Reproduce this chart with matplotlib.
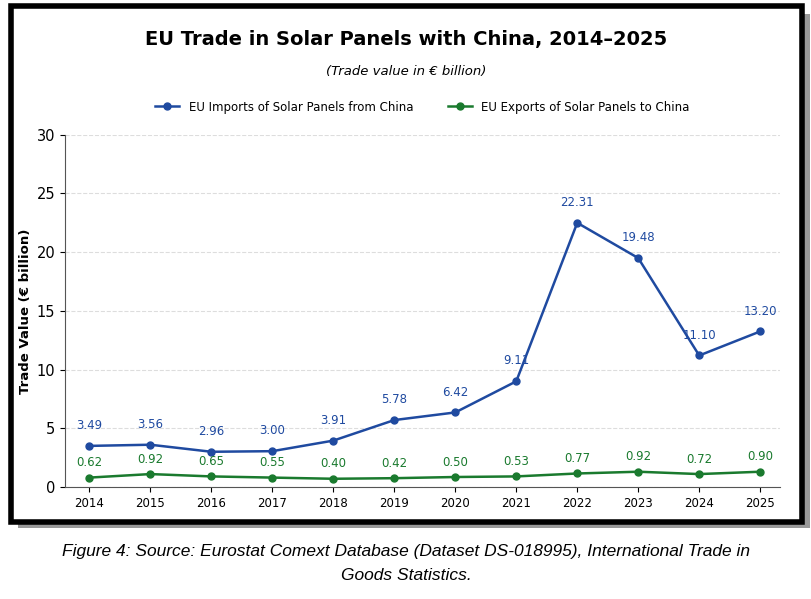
import matplotlib.pyplot as plt
from matplotlib.patches import Rectangle

years = [2014, 2015, 2016, 2017, 2018, 2019, 2020, 2021, 2022, 2023, 2024, 2025]
# positions read from the drawn points
imports_plot = [3.5, 3.6, 3.0, 3.05, 3.95, 5.7, 6.35, 9.0, 22.5, 19.5, 11.2, 13.25]
exports_plot = [0.8, 1.1, 0.9, 0.8, 0.7, 0.75, 0.85, 0.9, 1.15, 1.3, 1.1, 1.3]
# values as printed in the labels
imports_lbl = ['3.49', '3.56', '2.96', '3.00', '3.91', '5.78', '6.42', '9.11', '22.31', '19.48', '11.10', '13.20']
exports_lbl = ['0.62', '0.92', '0.65', '0.55', '0.40', '0.42', '0.50', '0.53', '0.77', '0.92', '0.72', '0.90']

blue = '#1f4aa0'
green = '#1a7a2e'

fig = plt.figure(figsize=(8.12, 5.99), dpi=100)

# frame with shadow
fig.patches.append(Rectangle((0.022, 0.118), 0.975, 0.858, transform=fig.transFigure,
                             facecolor='#999999', edgecolor='none', zorder=0))
fig.patches.append(Rectangle((0.013, 0.128), 0.975, 0.862, transform=fig.transFigure,
                             facecolor='white', edgecolor='black', linewidth=4, zorder=1))

ax = fig.add_axes([0.080, 0.187, 0.881, 0.588])
ax.set_zorder(2)
ax.patch.set_alpha(0)

ax.plot(years, imports_plot, color=blue, marker='o', markersize=5, linewidth=1.8,
        label='EU Imports of Solar Panels from China')
ax.plot(years, exports_plot, color=green, marker='o', markersize=5, linewidth=1.8,
        label='EU Exports of Solar Panels to China')

for x, y, t in zip(years, imports_plot, imports_lbl):
    ax.annotate(t, (x, y), xytext=(0, 10), textcoords='offset points', ha='center',
                va='bottom', color=blue, fontsize=8.5)
for x, y, t in zip(years, exports_plot, exports_lbl):
    ax.annotate(t, (x, y), xytext=(0, 6), textcoords='offset points', ha='center',
                va='bottom', color=green, fontsize=8.5)

ax.set_xlim(2013.6, 2025.33)
ax.set_ylim(0, 30)
ax.set_yticks(range(0, 31, 5))
ax.set_xticks(years)
ax.tick_params(axis='x', labelsize=8.5)
ax.tick_params(axis='y', labelsize=10.5)
ax.grid(axis='y', linestyle='--', color='#dddddd', linewidth=0.8)
ax.spines['top'].set_visible(False)
ax.spines['right'].set_visible(False)
ax.spines['left'].set_color('#555555')
ax.spines['bottom'].set_color('#555555')
ax.set_ylabel('Trade Value (€ billion)', fontsize=9.5, fontweight='bold', labelpad=3)

ax.legend(loc='lower center', bbox_to_anchor=(0.5, 1.03), ncol=2, frameon=False,
          fontsize=8.5, columnspacing=3)

fig.text(0.5, 0.925, 'EU Trade in Solar Panels with China, 2014–2025', ha='center',
         fontsize=14, fontweight='bold', zorder=3)
fig.text(0.5, 0.875, '(Trade value in € billion)', ha='center', fontsize=9.5,
         style='italic', zorder=3)

fig.text(0.5, 0.072, 'Figure 4: Source: Eurostat Comext Database (Dataset DS-018995), International Trade in',
         ha='center', fontsize=12.5, style='italic', family='Liberation Sans')
fig.text(0.5, 0.032, 'Goods Statistics.', ha='center', fontsize=12.5, style='italic',
         family='Liberation Sans')

fig.savefig('out.png', dpi=100)
